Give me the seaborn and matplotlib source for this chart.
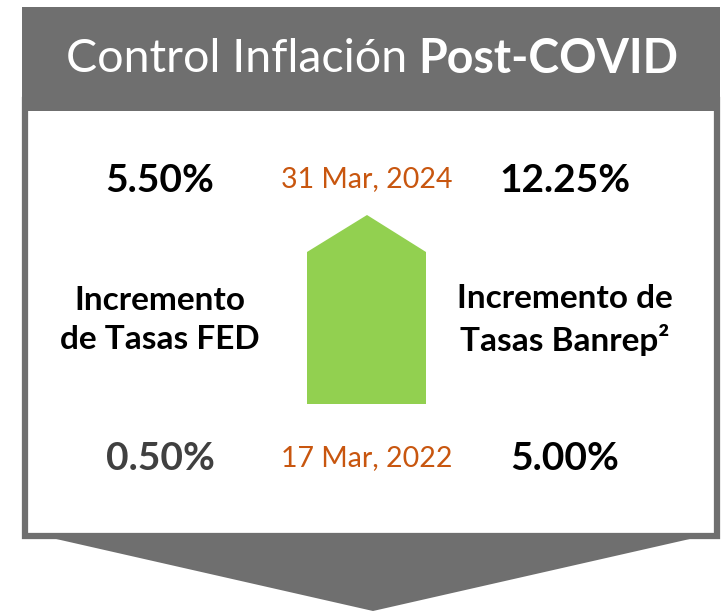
import matplotlib
matplotlib.use("Agg")
import matplotlib.pyplot as plt
from matplotlib.patches import Polygon, Rectangle
import seaborn as sns
import pandas as pd

# ---- data ----
title_regular = "Control Inflación "
title_bold = "Post-COVID"
series = ["FED", "Banrep"]
series_labels = ["Incremento\nde Tasas FED", "Incremento de\nTasas Banrep²"]
start_values = ["0.50%", "5.00%"]
end_values = ["5.50%", "12.25%"]
start_date = "17 Mar, 2022"
end_date = "31 Mar, 2024"

sns.set_style("white")
plt.rcParams['font.family'] = ['Lato', 'DejaVu Sans']

W, H = 723, 611
fig = plt.figure(figsize=(W / 100, H / 100), dpi=100)
ax = fig.add_axes([0, 0, 1, 1])
ax.set_xlim(0, W)
ax.set_ylim(H, 0)
ax.axis("off")

GRAY = "#6f6f6f"
GREEN = "#92d050"
ORANGE = "#c8560f"

# down arrow below box
ax.add_patch(Polygon([(43, 536), (703, 536), (373, 611)], closed=True, color=GRAY, lw=0))
# frame box
ax.add_patch(Rectangle((25, 100), 692, 436, facecolor="white", edgecolor=GRAY, lw=4.5))
# header
ax.add_patch(Rectangle((22, 7), 698, 104, facecolor=GRAY, edgecolor="none"))

# green up arrow (pentagon)
ax.add_patch(Polygon([(307, 404), (307, 252), (367, 215), (426, 252), (426, 404)],
                     closed=True, color=GREEN, lw=0))

# title (regular + bold parts, centred together)
fig.canvas.draw()
r = fig.canvas.get_renderer()
t1 = ax.text(0, 59, title_regular, fontsize=33.5, color="white", va="center", ha="left")
t2 = ax.text(0, 59, title_bold, fontsize=33.5, color="white", va="center", ha="left",
             fontweight="bold")
w1 = t1.get_window_extent(r).width
w2 = t2.get_window_extent(r).width
total = w1 + w2
x0 = 372 - total / 2
t1.set_x(x0)
t2.set_x(x0 + w1)

cols_x = [160, 565]
for i, s in enumerate(series):
    ax.text(cols_x[i], 181, end_values[i], fontsize=28, fontweight="bold",
            color="black", ha="center", va="center")
    ax.text(cols_x[i], 458, start_values[i], fontsize=28, fontweight="bold",
            color="#404040" if i == 0 else "black", ha="center", va="center")
    ax.text(cols_x[i], 320, series_labels[i], fontsize=24, fontweight="bold",
            color="black", ha="center", va="center", linespacing=1.4)

ax.text(367, 179, end_date, fontsize=20.5, color=ORANGE, ha="center", va="center")
ax.text(367, 458, start_date, fontsize=20.5, color=ORANGE, ha="center", va="center")

fig.savefig("out.png", dpi=100)
